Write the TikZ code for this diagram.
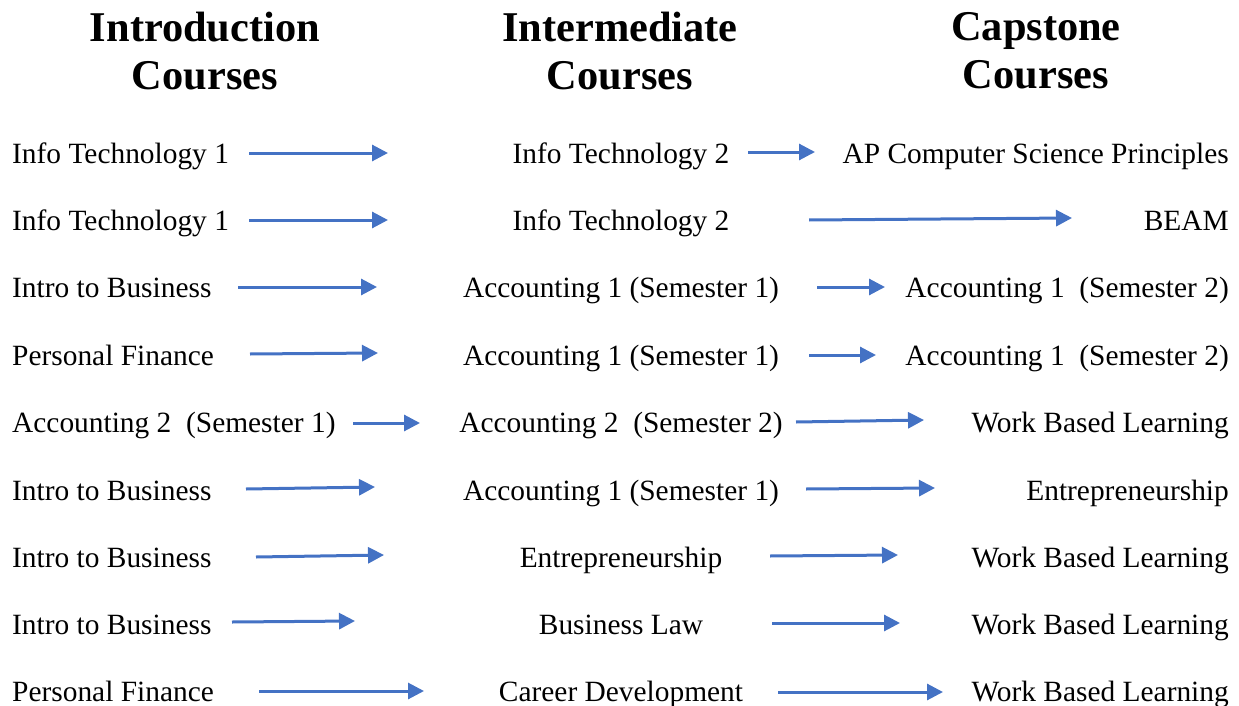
\documentclass[tikz,border=0pt]{standalone}
\usepackage{fontspec}
\setmainfont{Liberation Serif}
\usetikzlibrary{arrows.meta}
\definecolor{arrowblue}{HTML}{4472C4}
\tikzset{course/.style = {inner sep=0pt, font=\fontsize{29.4}{34}\selectfont},
         heading/.style = {inner sep=0pt, anchor=north, align=center,
                           font=\fontsize{42.4}{48}\selectfont\bfseries},
         flow/.style = {draw=arrowblue, line width=3pt,
                        -{Triangle[length=16pt,width=16pt]}}}

\begin{document}
\begin{tikzpicture}[x=1pt, y=-1pt]
      \useasboundingbox (0, 0) rectangle (1239, 706);

      % column headings
      \node [heading] (hintro) at (205, 12) {Introduction\\Courses};
      \node [heading] (hinter) at (620, 12) {Intermediate\\Courses};
      \node [heading] (hcap) at (1036, 12) {Capstone\\Courses};

      % introduction courses
      \node [course, anchor=base west] (l1) at (12, 163) {Info Technology 1};
      \node [course, anchor=base west] (l2) at (12, 230) {Info Technology 1};
      \node [course, anchor=base west] (l3) at (12, 297) {Intro to Business};
      \node [course, anchor=base west] (l4) at (12, 365) {Personal Finance};
      \node [course, anchor=base west] (l5) at (12, 432) {Accounting 2\ \ (Semester 1)};
      \node [course, anchor=base west] (l6) at (12, 500) {Intro to Business};
      \node [course, anchor=base west] (l7) at (12, 567) {Intro to Business};
      \node [course, anchor=base west] (l8) at (12, 634) {Intro to Business};
      \node [course, anchor=base west] (l9) at (12, 701) {Personal Finance};

      % intermediate courses
      \node [course, anchor=base] (m1) at (621, 163) {Info Technology 2};
      \node [course, anchor=base] (m2) at (621, 230) {Info Technology 2};
      \node [course, anchor=base] (m3) at (621, 297) {Accounting 1 (Semester 1)};
      \node [course, anchor=base] (m4) at (621, 365) {Accounting 1 (Semester 1)};
      \node [course, anchor=base] (m5) at (621, 432) {Accounting 2\ \ (Semester 2)};
      \node [course, anchor=base] (m6) at (621, 500) {Accounting 1 (Semester 1)};
      \node [course, anchor=base] (m7) at (621, 567) {Entrepreneurship};
      \node [course, anchor=base] (m8) at (621, 634) {Business Law};
      \node [course, anchor=base] (m9) at (621, 701) {Career Development};

      % capstone courses
      \node [course, anchor=base east] (r1) at (1229, 163) {AP Computer Science Principles};
      \node [course, anchor=base east] (r2) at (1229, 230) {BEAM};
      \node [course, anchor=base east] (r3) at (1229, 297) {Accounting 1\ \ (Semester 2)};
      \node [course, anchor=base east] (r4) at (1229, 365) {Accounting 1\ \ (Semester 2)};
      \node [course, anchor=base east] (r5) at (1229, 432) {Work Based Learning};
      \node [course, anchor=base east] (r6) at (1229, 500) {Entrepreneurship};
      \node [course, anchor=base east] (r7) at (1229, 567) {Work Based Learning};
      \node [course, anchor=base east] (r8) at (1229, 634) {Work Based Learning};
      \node [course, anchor=base east] (r9) at (1229, 701) {Work Based Learning};

      % arrow ends, intro -> intermediate
      \coordinate (ls1) at (249, 153);  \coordinate (le1) at (388, 153);
      \coordinate (ls2) at (249, 220);  \coordinate (le2) at (388, 220);
      \coordinate (ls3) at (238, 287);  \coordinate (le3) at (377, 287);
      \coordinate (ls4) at (250, 354);  \coordinate (le4) at (378, 353);
      \coordinate (ls5) at (353, 423);  \coordinate (le5) at (420, 423);
      \coordinate (ls6) at (246, 489);  \coordinate (le6) at (375, 487);
      \coordinate (ls7) at (256, 557);  \coordinate (le7) at (384, 555);
      \coordinate (ls8) at (232, 622);  \coordinate (le8) at (355, 621);
      \coordinate (ls9) at (259, 691);  \coordinate (le9) at (424, 691);

      % arrow ends, intermediate -> capstone
      \coordinate (ms1) at (748, 152);  \coordinate (me1) at (815, 152);
      \coordinate (ms2) at (809, 220);  \coordinate (me2) at (1072, 218);
      \coordinate (ms3) at (817, 287);  \coordinate (me3) at (885, 287);
      \coordinate (ms4) at (809, 355);  \coordinate (me4) at (876, 355);
      \coordinate (ms5) at (796, 422);  \coordinate (me5) at (924, 420);
      \coordinate (ms6) at (806, 489);  \coordinate (me6) at (935, 488);
      \coordinate (ms7) at (770, 556);  \coordinate (me7) at (898, 555);
      \coordinate (ms8) at (772, 623);  \coordinate (me8) at (900, 623);
      \coordinate (ms9) at (778, 692);  \coordinate (me9) at (943, 692);

      \draw [flow] (ls1) -- (le1);
      \draw [flow] (ls2) -- (le2);
      \draw [flow] (ls3) -- (le3);
      \draw [flow] (ls4) -- (le4);
      \draw [flow] (ls5) -- (le5);
      \draw [flow] (ls6) -- (le6);
      \draw [flow] (ls7) -- (le7);
      \draw [flow] (ls8) -- (le8);
      \draw [flow] (ls9) -- (le9);

      \draw [flow] (ms1) -- (me1);
      \draw [flow] (ms2) -- (me2);
      \draw [flow] (ms3) -- (me3);
      \draw [flow] (ms4) -- (me4);
      \draw [flow] (ms5) -- (me5);
      \draw [flow] (ms6) -- (me6);
      \draw [flow] (ms7) -- (me7);
      \draw [flow] (ms8) -- (me8);
      \draw [flow] (ms9) -- (me9);
    \end{tikzpicture}
\end{document}
